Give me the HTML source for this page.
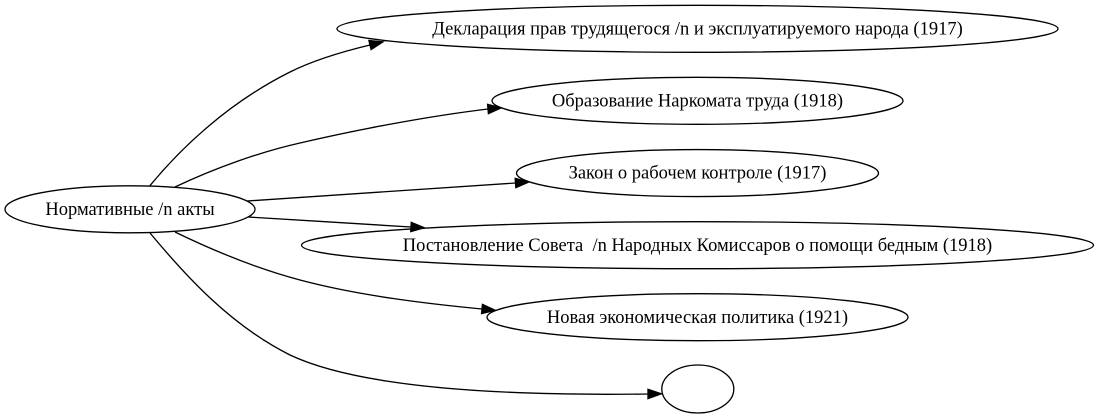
<!DOCTYPE html>
<html>
<head>
<meta charset="utf-8">
<style>
  html, body { margin: 0; padding: 0; background: #ffffff; }
  svg { display: block; }
  text { font-family: "Liberation Serif", "Noto Serif CJK SC", serif; font-size: 18.5px; fill: #000; white-space: pre; }
</style>
</head>
<body>
<svg width="1099" height="419" viewBox="0 0 1099 419" xmlns="http://www.w3.org/2000/svg">
  <rect x="0" y="0" width="1099" height="419" fill="#ffffff"/>
  <g fill="none" stroke="#000" stroke-width="1.33">
    <!-- nodes -->
    <ellipse cx="130" cy="209.3" rx="125" ry="23.5"/>
    <ellipse cx="697.5" cy="28.8" rx="360.5" ry="23.5"/>
    <ellipse cx="697.5" cy="100.8" rx="205.5" ry="23.5"/>
    <ellipse cx="697.5" cy="173.1" rx="181" ry="23.5"/>
    <ellipse cx="697.5" cy="245.2" rx="396" ry="23.5"/>
    <ellipse cx="697.5" cy="317.2" rx="210.5" ry="23.5"/>
    <ellipse cx="697.8" cy="389" rx="36" ry="24"/>
    <!-- edges -->
    <path d="M150,185.6 C181,148 228,103 290,72 C316,59 345,51 370,45"/>
    <path d="M175,187 C215,168 260,152 300,143 C360,129 430,116 488,109"/>
    <path d="M247,201 L515.5,183"/>
    <path d="M248,217 C300,220 360,224 411,227"/>
    <path d="M175,232 C210,249 255,268 300,280 C360,296 430,304 482,309"/>
    <path d="M150,233 C185,275 230,325 290,355 C360,388 500,396 648,394"/>
  </g>
  <g fill="#000" stroke="#000" stroke-width="1.33">
    <polygon points="371.09,49.54 382.96,41.89 368.91,40.46"/>
    <polygon points="488.4,113.65 501.3,107.85 487.6,104.35"/>
    <polygon points="515.85,187.66 528.8,182 515.15,178.34"/>
    <polygon points="410.73,231.66 424.3,227.8 411.27,222.34"/>
    <polygon points="481.55,313.65 495.27,310.28 482.45,304.35"/>
    <polygon points="648,398.67 661.3,393.8 648,389.33"/>
  </g>
  <!-- labels -->
  <text x="130" y="214.9" text-anchor="middle">Нормативные /n акты</text>
  <text x="697.5" y="34.4" text-anchor="middle">Декларация прав трудящегося /n и эксплуатируемого народа (1917)</text>
  <text x="697.5" y="106.4" text-anchor="middle">Образование Наркомата труда (1918)</text>
  <text x="697.5" y="178.7" text-anchor="middle">Закон о рабочем контроле (1917)</text>
  <text x="697.5" y="250.8" text-anchor="middle" xml:space="preserve">Постановление Совета  /n Народных Комиссаров о помощи бедным (1918)</text>
  <text x="697.5" y="322.8" text-anchor="middle">Новая экономическая политика (1921)</text>
</svg>
</body>
</html>
